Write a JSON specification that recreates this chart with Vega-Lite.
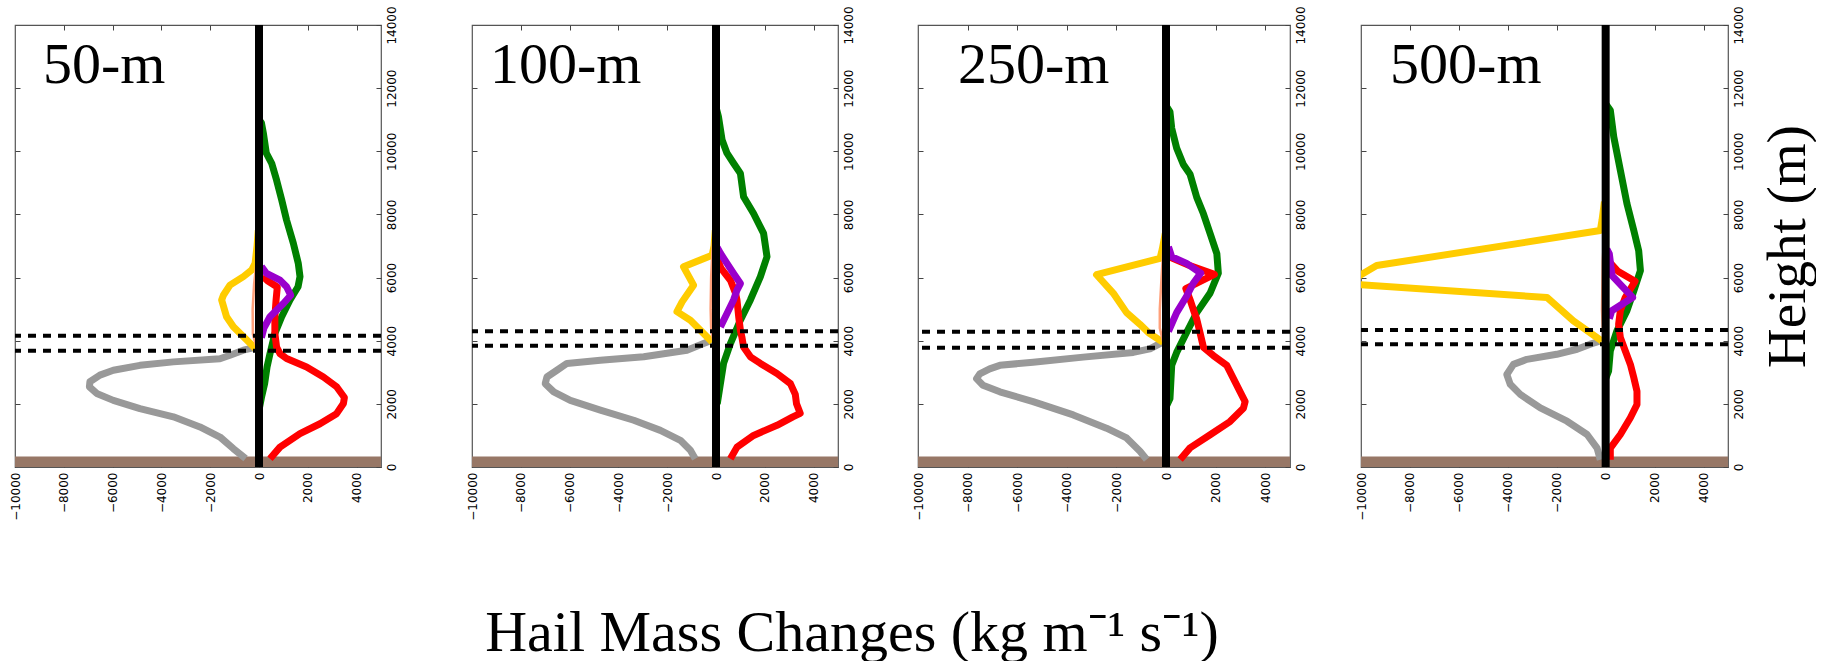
{
"$schema": "https://vega.github.io/schema/vega-lite/v6.json",
"background": "white",
"padding": {"left": 8, "top": 5, "right": 0, "bottom": 0},
"config": {
  "view": {"stroke": "#555555", "strokeWidth": 1.2},
  "axis": {"grid": false, "domain": false, "labelFont": "DejaVu Sans", "labelFontSize": 12, "labelColor": "#000000", "tickColor": "#444444", "tickSize": -5, "labelPadding": 10}
},
"title": {"text": "Hail Mass Changes (kg m⁻¹ s⁻¹)", "orient": "bottom", "anchor": "middle", "font": "Liberation Serif", "fontSize": 58, "fontWeight": "normal", "color": "#000000", "offset": 84, "dx": -60},
"bounds": "flush",
"spacing": 91,
"datasets": {
  "lines": [
    {"p":"50-m","s":"gray","h":270,"v":-550},{"p":"50-m","s":"gray","h":580,"v":-1050},{"p":"50-m","s":"gray","h":950,"v":-1600},{"p":"50-m","s":"gray","h":1270,"v":-2420},{"p":"50-m","s":"gray","h":1590,"v":-3510},{"p":"50-m","s":"gray","h":1850,"v":-4880},{"p":"50-m","s":"gray","h":2110,"v":-5970},{"p":"50-m","s":"gray","h":2330,"v":-6650},{"p":"50-m","s":"gray","h":2540,"v":-6950},{"p":"50-m","s":"gray","h":2700,"v":-6930},{"p":"50-m","s":"gray","h":2910,"v":-6520},{"p":"50-m","s":"gray","h":3065,"v":-5970},{"p":"50-m","s":"gray","h":3220,"v":-4880},{"p":"50-m","s":"gray","h":3330,"v":-3510},{"p":"50-m","s":"gray","h":3430,"v":-1600},{"p":"50-m","s":"gray","h":3540,"v":-1190},{"p":"50-m","s":"gray","h":3700,"v":-640},{"p":"50-m","s":"gray","h":3800,"v":-100},
    {"p":"50-m","s":"yellow","h":3750,"v":-150},{"p":"50-m","s":"yellow","h":4020,"v":-500},{"p":"50-m","s":"yellow","h":4440,"v":-1050},{"p":"50-m","s":"yellow","h":4760,"v":-1330},{"p":"50-m","s":"yellow","h":5290,"v":-1530},{"p":"50-m","s":"yellow","h":5440,"v":-1460},{"p":"50-m","s":"yellow","h":5760,"v":-1190},{"p":"50-m","s":"yellow","h":6030,"v":-640},{"p":"50-m","s":"yellow","h":6240,"v":-300},{"p":"50-m","s":"yellow","h":6450,"v":-160},{"p":"50-m","s":"yellow","h":7000,"v":-80},{"p":"50-m","s":"yellow","h":7500,"v":-30},
    {"p":"50-m","s":"salmon","h":3800,"v":-100},{"p":"50-m","s":"salmon","h":4200,"v":-250},{"p":"50-m","s":"salmon","h":5000,"v":-260},{"p":"50-m","s":"salmon","h":5800,"v":-200},{"p":"50-m","s":"salmon","h":6500,"v":-100},{"p":"50-m","s":"salmon","h":7500,"v":-20},{"p":"50-m","s":"salmon","h":8000,"v":0},
    {"p":"50-m","s":"green","h":1800,"v":0},{"p":"50-m","s":"green","h":2200,"v":100},{"p":"50-m","s":"green","h":2640,"v":230},{"p":"50-m","s":"green","h":3170,"v":330},{"p":"50-m","s":"green","h":3590,"v":450},{"p":"50-m","s":"green","h":4230,"v":650},{"p":"50-m","s":"green","h":4760,"v":930},{"p":"50-m","s":"green","h":5290,"v":1270},{"p":"50-m","s":"green","h":5710,"v":1600},{"p":"50-m","s":"green","h":6030,"v":1680},{"p":"50-m","s":"green","h":6450,"v":1610},{"p":"50-m","s":"green","h":7080,"v":1410},{"p":"50-m","s":"green","h":7820,"v":1130},{"p":"50-m","s":"green","h":8460,"v":930},{"p":"50-m","s":"green","h":9090,"v":720},{"p":"50-m","s":"green","h":9620,"v":520},{"p":"50-m","s":"green","h":9940,"v":300},{"p":"50-m","s":"green","h":10570,"v":180},{"p":"50-m","s":"green","h":10900,"v":100},{"p":"50-m","s":"green","h":11000,"v":0},
    {"p":"50-m","s":"red","h":260,"v":450},{"p":"50-m","s":"red","h":630,"v":860},{"p":"50-m","s":"red","h":1060,"v":1680},{"p":"50-m","s":"red","h":1370,"v":2500},{"p":"50-m","s":"red","h":1690,"v":3180},{"p":"50-m","s":"red","h":2010,"v":3460},{"p":"50-m","s":"red","h":2200,"v":3500},{"p":"50-m","s":"red","h":2540,"v":3180},{"p":"50-m","s":"red","h":2850,"v":2640},{"p":"50-m","s":"red","h":3170,"v":1950},{"p":"50-m","s":"red","h":3435,"v":1130},{"p":"50-m","s":"red","h":3590,"v":860},{"p":"50-m","s":"red","h":3800,"v":720},{"p":"50-m","s":"red","h":4230,"v":650},{"p":"50-m","s":"red","h":4760,"v":650},{"p":"50-m","s":"red","h":5290,"v":700},{"p":"50-m","s":"red","h":5700,"v":750},{"p":"50-m","s":"red","h":5900,"v":350},{"p":"50-m","s":"red","h":6050,"v":150},
    {"p":"50-m","s":"purple","h":4100,"v":100},{"p":"50-m","s":"purple","h":4400,"v":200},{"p":"50-m","s":"purple","h":4760,"v":450},{"p":"50-m","s":"purple","h":5180,"v":1000},{"p":"50-m","s":"purple","h":5440,"v":1300},{"p":"50-m","s":"purple","h":5710,"v":1130},{"p":"50-m","s":"purple","h":5920,"v":860},{"p":"50-m","s":"purple","h":6130,"v":310},{"p":"50-m","s":"purple","h":6350,"v":100},

    {"p":"100-m","s":"gray","h":264,"v":-850},{"p":"100-m","s":"gray","h":530,"v":-1050},{"p":"100-m","s":"gray","h":845,"v":-1460},{"p":"100-m","s":"gray","h":1160,"v":-2280},{"p":"100-m","s":"gray","h":1480,"v":-3370},{"p":"100-m","s":"gray","h":1800,"v":-4740},{"p":"100-m","s":"gray","h":2110,"v":-5970},{"p":"100-m","s":"gray","h":2380,"v":-6650},{"p":"100-m","s":"gray","h":2640,"v":-7000},{"p":"100-m","s":"gray","h":2850,"v":-6930},{"p":"100-m","s":"gray","h":3065,"v":-6520},{"p":"100-m","s":"gray","h":3280,"v":-6110},{"p":"100-m","s":"gray","h":3380,"v":-4740},{"p":"100-m","s":"gray","h":3490,"v":-2960},{"p":"100-m","s":"gray","h":3700,"v":-1190},{"p":"100-m","s":"gray","h":3910,"v":-510},{"p":"100-m","s":"gray","h":4020,"v":-150},
    {"p":"100-m","s":"yellow","h":3960,"v":-160},{"p":"100-m","s":"yellow","h":4330,"v":-640},{"p":"100-m","s":"yellow","h":4650,"v":-1050},{"p":"100-m","s":"yellow","h":4920,"v":-1600},{"p":"100-m","s":"yellow","h":5230,"v":-1390},{"p":"100-m","s":"yellow","h":5760,"v":-920},{"p":"100-m","s":"yellow","h":6340,"v":-1330},{"p":"100-m","s":"yellow","h":6710,"v":-160},{"p":"100-m","s":"yellow","h":7000,"v":-80},{"p":"100-m","s":"yellow","h":7500,"v":-30},
    {"p":"100-m","s":"salmon","h":3900,"v":-100},{"p":"100-m","s":"salmon","h":4400,"v":-200},{"p":"100-m","s":"salmon","h":5000,"v":-220},{"p":"100-m","s":"salmon","h":6000,"v":-200},{"p":"100-m","s":"salmon","h":6800,"v":-150},{"p":"100-m","s":"salmon","h":7500,"v":-80},{"p":"100-m","s":"salmon","h":8200,"v":0},
    {"p":"100-m","s":"green","h":2000,"v":50},{"p":"100-m","s":"green","h":2640,"v":180},{"p":"100-m","s":"green","h":3280,"v":310},{"p":"100-m","s":"green","h":3910,"v":590},{"p":"100-m","s":"green","h":4650,"v":1000},{"p":"100-m","s":"green","h":5290,"v":1410},{"p":"100-m","s":"green","h":6030,"v":1820},{"p":"100-m","s":"green","h":6660,"v":2090},{"p":"100-m","s":"green","h":7400,"v":1950},{"p":"100-m","s":"green","h":8030,"v":1540},{"p":"100-m","s":"green","h":8560,"v":1130},{"p":"100-m","s":"green","h":9300,"v":1000},{"p":"100-m","s":"green","h":9620,"v":720},{"p":"100-m","s":"green","h":9940,"v":450},{"p":"100-m","s":"green","h":10360,"v":250},{"p":"100-m","s":"green","h":11100,"v":100},{"p":"100-m","s":"green","h":11400,"v":0},
    {"p":"100-m","s":"red","h":264,"v":590},{"p":"100-m","s":"red","h":630,"v":860},{"p":"100-m","s":"red","h":1000,"v":1540},{"p":"100-m","s":"red","h":1320,"v":2500},{"p":"100-m","s":"red","h":1590,"v":3150},{"p":"100-m","s":"red","h":1700,"v":3450},{"p":"100-m","s":"red","h":2000,"v":3300},{"p":"100-m","s":"red","h":2300,"v":3250},{"p":"100-m","s":"red","h":2640,"v":3050},{"p":"100-m","s":"red","h":2960,"v":2500},{"p":"100-m","s":"red","h":3280,"v":1820},{"p":"100-m","s":"red","h":3490,"v":1410},{"p":"100-m","s":"red","h":3800,"v":1130},{"p":"100-m","s":"red","h":4120,"v":1060},{"p":"100-m","s":"red","h":4330,"v":1000},{"p":"100-m","s":"red","h":4760,"v":930},{"p":"100-m","s":"red","h":5290,"v":860},{"p":"100-m","s":"red","h":5500,"v":800},{"p":"100-m","s":"red","h":5900,"v":600},{"p":"100-m","s":"red","h":6300,"v":200},{"p":"100-m","s":"red","h":6600,"v":50},
    {"p":"100-m","s":"purple","h":4440,"v":180},{"p":"100-m","s":"purple","h":4860,"v":450},{"p":"100-m","s":"purple","h":5290,"v":720},{"p":"100-m","s":"purple","h":5600,"v":860},{"p":"100-m","s":"purple","h":5810,"v":1000},{"p":"100-m","s":"purple","h":6130,"v":720},{"p":"100-m","s":"purple","h":6450,"v":450},{"p":"100-m","s":"purple","h":6770,"v":180},{"p":"100-m","s":"purple","h":6950,"v":50},

    {"p":"250-m","s":"gray","h":240,"v":-780},{"p":"250-m","s":"gray","h":500,"v":-1050},{"p":"250-m","s":"gray","h":920,"v":-1590},{"p":"250-m","s":"gray","h":1230,"v":-2400},{"p":"250-m","s":"gray","h":1650,"v":-3740},{"p":"250-m","s":"gray","h":2070,"v":-5360},{"p":"250-m","s":"gray","h":2380,"v":-6700},{"p":"250-m","s":"gray","h":2590,"v":-7380},{"p":"250-m","s":"gray","h":2800,"v":-7640},{"p":"250-m","s":"gray","h":2950,"v":-7510},{"p":"250-m","s":"gray","h":3110,"v":-7110},{"p":"250-m","s":"gray","h":3220,"v":-6700},{"p":"250-m","s":"gray","h":3320,"v":-5360},{"p":"250-m","s":"gray","h":3480,"v":-3340},{"p":"250-m","s":"gray","h":3630,"v":-1320},{"p":"250-m","s":"gray","h":3740,"v":-650},{"p":"250-m","s":"gray","h":3950,"v":-150},
    {"p":"250-m","s":"yellow","h":3950,"v":-120},{"p":"250-m","s":"yellow","h":4250,"v":-700},{"p":"250-m","s":"yellow","h":4520,"v":-1050},{"p":"250-m","s":"yellow","h":4890,"v":-1590},{"p":"250-m","s":"yellow","h":5510,"v":-2130},{"p":"250-m","s":"yellow","h":6090,"v":-2800},{"p":"250-m","s":"yellow","h":6610,"v":-240},{"p":"250-m","s":"yellow","h":6900,"v":-150},{"p":"250-m","s":"yellow","h":7400,"v":-30},
    {"p":"250-m","s":"salmon","h":3900,"v":-100},{"p":"250-m","s":"salmon","h":4400,"v":-250},{"p":"250-m","s":"salmon","h":5000,"v":-250},{"p":"250-m","s":"salmon","h":6000,"v":-180},{"p":"250-m","s":"salmon","h":7000,"v":-100},{"p":"250-m","s":"salmon","h":8000,"v":-40},{"p":"250-m","s":"salmon","h":8500,"v":0},
    {"p":"250-m","s":"green","h":1900,"v":0},{"p":"250-m","s":"green","h":2170,"v":160},{"p":"250-m","s":"green","h":3220,"v":230},{"p":"250-m","s":"green","h":3630,"v":430},{"p":"250-m","s":"green","h":4260,"v":830},{"p":"250-m","s":"green","h":4890,"v":1240},{"p":"250-m","s":"green","h":5510,"v":1780},{"p":"250-m","s":"green","h":6140,"v":2110},{"p":"250-m","s":"green","h":6760,"v":2050},{"p":"250-m","s":"green","h":7390,"v":1780},{"p":"250-m","s":"green","h":8020,"v":1510},{"p":"250-m","s":"green","h":8540,"v":1240},{"p":"250-m","s":"green","h":9270,"v":970},{"p":"250-m","s":"green","h":9580,"v":700},{"p":"250-m","s":"green","h":10100,"v":430},{"p":"250-m","s":"green","h":10730,"v":230},{"p":"250-m","s":"green","h":11250,"v":160},{"p":"250-m","s":"green","h":11450,"v":0},
    {"p":"250-m","s":"red","h":240,"v":570},{"p":"250-m","s":"red","h":605,"v":970},{"p":"250-m","s":"red","h":1020,"v":1780},{"p":"250-m","s":"red","h":1440,"v":2580},{"p":"250-m","s":"red","h":1860,"v":3120},{"p":"250-m","s":"red","h":2070,"v":3190},{"p":"250-m","s":"red","h":2380,"v":2990},{"p":"250-m","s":"red","h":2800,"v":2720},{"p":"250-m","s":"red","h":3220,"v":2450},{"p":"250-m","s":"red","h":3530,"v":1910},{"p":"250-m","s":"red","h":3790,"v":1510},{"p":"250-m","s":"red","h":4260,"v":1370},{"p":"250-m","s":"red","h":4680,"v":1240},{"p":"250-m","s":"red","h":4990,"v":1100},{"p":"250-m","s":"red","h":5300,"v":970},{"p":"250-m","s":"red","h":5650,"v":800},{"p":"250-m","s":"red","h":6100,"v":1950},{"p":"250-m","s":"red","h":6400,"v":900},{"p":"250-m","s":"red","h":6650,"v":150},{"p":"250-m","s":"red","h":6900,"v":50},
    {"p":"250-m","s":"purple","h":4300,"v":100},{"p":"250-m","s":"purple","h":4890,"v":430},{"p":"250-m","s":"purple","h":5410,"v":830},{"p":"250-m","s":"purple","h":5820,"v":1100},{"p":"250-m","s":"purple","h":6140,"v":1400},{"p":"250-m","s":"purple","h":6450,"v":830},{"p":"250-m","s":"purple","h":6660,"v":230},{"p":"250-m","s":"purple","h":6970,"v":100},

    {"p":"500-m","s":"gray","h":230,"v":-220},{"p":"500-m","s":"gray","h":600,"v":-350},{"p":"500-m","s":"gray","h":1030,"v":-760},{"p":"500-m","s":"gray","h":1450,"v":-1580},{"p":"500-m","s":"gray","h":1870,"v":-2670},{"p":"500-m","s":"gray","h":2300,"v":-3490},{"p":"500-m","s":"gray","h":2620,"v":-3900},{"p":"500-m","s":"gray","h":2930,"v":-4040},{"p":"500-m","s":"gray","h":3250,"v":-3770},{"p":"500-m","s":"gray","h":3410,"v":-3220},{"p":"500-m","s":"gray","h":3570,"v":-2000},{"p":"500-m","s":"gray","h":3730,"v":-1170},{"p":"500-m","s":"gray","h":3890,"v":-630},{"p":"500-m","s":"gray","h":3990,"v":-220},
    {"p":"500-m","s":"yellow","h":3990,"v":-150},{"p":"500-m","s":"yellow","h":4630,"v":-1320},{"p":"500-m","s":"yellow","h":5370,"v":-2400},{"p":"500-m","s":"yellow","h":5780,"v":-10200},{"p":"500-m","s":"yellow","h":6000,"v":-10200},{"p":"500-m","s":"yellow","h":6380,"v":-9360},{"p":"500-m","s":"yellow","h":7490,"v":-220},{"p":"500-m","s":"yellow","h":7810,"v":-150},{"p":"500-m","s":"yellow","h":8400,"v":-50},
    {"p":"500-m","s":"salmon","h":4000,"v":-100},{"p":"500-m","s":"salmon","h":5000,"v":-150},{"p":"500-m","s":"salmon","h":6500,"v":-120},{"p":"500-m","s":"salmon","h":7500,"v":-50},{"p":"500-m","s":"salmon","h":8000,"v":0},
    {"p":"500-m","s":"green","h":2800,"v":0},{"p":"500-m","s":"green","h":3040,"v":120},{"p":"500-m","s":"green","h":3680,"v":190},{"p":"500-m","s":"green","h":4310,"v":460},{"p":"500-m","s":"green","h":4950,"v":870},{"p":"500-m","s":"green","h":5580,"v":1150},{"p":"500-m","s":"green","h":6220,"v":1420},{"p":"500-m","s":"green","h":6850,"v":1350},{"p":"500-m","s":"green","h":7490,"v":1150},{"p":"500-m","s":"green","h":8340,"v":870},{"p":"500-m","s":"green","h":9400,"v":600},{"p":"500-m","s":"green","h":10460,"v":330},{"p":"500-m","s":"green","h":11300,"v":190},{"p":"500-m","s":"green","h":11500,"v":0},
    {"p":"500-m","s":"red","h":230,"v":190},{"p":"500-m","s":"red","h":600,"v":190},{"p":"500-m","s":"red","h":1030,"v":600},{"p":"500-m","s":"red","h":1560,"v":1010},{"p":"500-m","s":"red","h":1980,"v":1280},{"p":"500-m","s":"red","h":2400,"v":1280},{"p":"500-m","s":"red","h":2830,"v":1150},{"p":"500-m","s":"red","h":3250,"v":1010},{"p":"500-m","s":"red","h":3680,"v":800},{"p":"500-m","s":"red","h":4100,"v":600},{"p":"500-m","s":"red","h":4520,"v":530},{"p":"500-m","s":"red","h":4950,"v":600},{"p":"500-m","s":"red","h":5370,"v":800},{"p":"500-m","s":"red","h":5880,"v":1200},{"p":"500-m","s":"red","h":6200,"v":500},{"p":"500-m","s":"red","h":6500,"v":150},{"p":"500-m","s":"red","h":6800,"v":50},
    {"p":"500-m","s":"purple","h":4700,"v":150},{"p":"500-m","s":"purple","h":4950,"v":250},{"p":"500-m","s":"purple","h":5370,"v":1100},{"p":"500-m","s":"purple","h":6060,"v":260},{"p":"500-m","s":"purple","h":6750,"v":150},{"p":"500-m","s":"purple","h":6900,"v":50}
  ],
  "dash": [
    {"p":"50-m","h":4160},{"p":"50-m","h":3680},
    {"p":"100-m","h":4300},{"p":"100-m","h":3840},
    {"p":"250-m","h":4280},{"p":"250-m","h":3780},
    {"p":"500-m","h":4340},{"p":"500-m","h":3890}
  ]
},
"hconcat": [
  {
    "width": 366, "height": 442,
    "resolve": {"axis": {"x": "independent", "y": "independent"}},
    "layer": [
      {"data": {"values": [{"g": "ground"}]}, "mark": {"type": "rect", "color": "#977766"},
       "encoding": {
         "x": {"datum": -10000, "type": "quantitative", "scale": {"domain": [-10000, 5000], "nice": false, "zero": false}, "axis": {"orient": "bottom", "values": [-10000,-8000,-6000,-4000,-2000,0,2000,4000], "format": "d", "labelAngle": -90, "labelAlign": "right", "labelBaseline": "middle", "title": null}},
         "x2": {"datum": 5000},
         "y": {"datum": 0, "type": "quantitative", "scale": {"domain": [0, 14000], "nice": false, "zero": false}, "axis": {"orient": "right", "values": [0,2000,4000,6000,8000,10000,12000,14000], "format": "d", "labelAngle": -90, "labelAlign": "center", "labelBaseline": "top", "title": null}},
         "y2": {"datum": 330}}},
      {"data": {"name": "lines"}, "transform": [{"filter": "datum.p == '50-m' && datum.s != 'salmon'"}],
       "mark": {"type": "line", "strokeWidth": 7, "clip": true, "strokeJoin": "round"},
       "encoding": {
         "x": {"field": "v", "type": "quantitative", "axis": {"orient": "top", "labels": false, "values": [-8000,-6000,-4000,-2000,0,2000,4000], "title": null}},
         "y": {"field": "h", "type": "quantitative", "axis": {"orient": "left", "labels": false, "values": [2000,4000,6000,8000,10000,12000], "title": null}},
         "color": {"field": "s", "type": "nominal", "scale": {"domain": ["gray","yellow","green","red","purple"], "range": ["#999999","#FFCC00","#008000","#FF0000","#9900CC"]}, "legend": null},
         "order": {"field": "h", "type": "quantitative"}}},
      {"data": {"name": "lines"}, "transform": [{"filter": "datum.p == '50-m' && datum.s == 'salmon'"}],
       "mark": {"type": "line", "strokeWidth": 2.5, "color": "#FFA07A", "clip": true},
       "encoding": {"x": {"field": "v", "type": "quantitative", "axis": null}, "y": {"field": "h", "type": "quantitative", "axis": null}, "order": {"field": "h", "type": "quantitative"}}},
      {"data": {"name": "dash"}, "transform": [{"filter": "datum.p == '50-m'"}],
       "mark": {"type": "rule", "color": "#000000", "strokeWidth": 4, "strokeDash": [8, 7]},
       "encoding": {"y": {"field": "h", "type": "quantitative", "axis": null}}},
      {"data": {"values": [{"g": "zero"}]}, "mark": {"type": "rule", "color": "#000000", "strokeWidth": 8},
       "encoding": {"x": {"datum": 0, "type": "quantitative", "axis": null}}},
      {"data": {"values": [{"label": "50-m"}]}, "mark": {"type": "text", "font": "Liberation Serif", "fontSize": 58, "align": "left", "baseline": "alphabetic", "color": "#000000"},
       "encoding": {"text": {"field": "label"}, "x": {"datum": -8850, "type": "quantitative", "axis": null}, "y": {"datum": 12150, "type": "quantitative", "axis": null}}}
    ]
  },
  {
  "bounds": "flush",
  "spacing": 80,
  "hconcat": [
  {
    "width": 366, "height": 442,
    "resolve": {"axis": {"x": "independent", "y": "independent"}},
    "layer": [
      {"data": {"values": [{"g": "ground"}]}, "mark": {"type": "rect", "color": "#977766"},
       "encoding": {
         "x": {"datum": -10000, "type": "quantitative", "scale": {"domain": [-10000, 5000], "nice": false, "zero": false}, "axis": {"orient": "bottom", "values": [-10000,-8000,-6000,-4000,-2000,0,2000,4000], "format": "d", "labelAngle": -90, "labelAlign": "right", "labelBaseline": "middle", "title": null}},
         "x2": {"datum": 5000},
         "y": {"datum": 0, "type": "quantitative", "scale": {"domain": [0, 14000], "nice": false, "zero": false}, "axis": {"orient": "right", "values": [0,2000,4000,6000,8000,10000,12000,14000], "format": "d", "labelAngle": -90, "labelAlign": "center", "labelBaseline": "top", "title": null}},
         "y2": {"datum": 330}}},
      {"data": {"name": "lines"}, "transform": [{"filter": "datum.p == '100-m' && datum.s != 'salmon'"}],
       "mark": {"type": "line", "strokeWidth": 7, "clip": true, "strokeJoin": "round"},
       "encoding": {
         "x": {"field": "v", "type": "quantitative", "axis": {"orient": "top", "labels": false, "values": [-8000,-6000,-4000,-2000,0,2000,4000], "title": null}},
         "y": {"field": "h", "type": "quantitative", "axis": {"orient": "left", "labels": false, "values": [2000,4000,6000,8000,10000,12000], "title": null}},
         "color": {"field": "s", "type": "nominal", "scale": {"domain": ["gray","yellow","green","red","purple"], "range": ["#999999","#FFCC00","#008000","#FF0000","#9900CC"]}, "legend": null},
         "order": {"field": "h", "type": "quantitative"}}},
      {"data": {"name": "lines"}, "transform": [{"filter": "datum.p == '100-m' && datum.s == 'salmon'"}],
       "mark": {"type": "line", "strokeWidth": 2.5, "color": "#FFA07A", "clip": true},
       "encoding": {"x": {"field": "v", "type": "quantitative", "axis": null}, "y": {"field": "h", "type": "quantitative", "axis": null}, "order": {"field": "h", "type": "quantitative"}}},
      {"data": {"name": "dash"}, "transform": [{"filter": "datum.p == '100-m'"}],
       "mark": {"type": "rule", "color": "#000000", "strokeWidth": 4, "strokeDash": [8, 7]},
       "encoding": {"y": {"field": "h", "type": "quantitative", "axis": null}}},
      {"data": {"values": [{"g": "zero"}]}, "mark": {"type": "rule", "color": "#000000", "strokeWidth": 8},
       "encoding": {"x": {"datum": 0, "type": "quantitative", "axis": null}}},
      {"data": {"values": [{"label": "100-m"}]}, "mark": {"type": "text", "font": "Liberation Serif", "fontSize": 58, "align": "left", "baseline": "alphabetic", "color": "#000000"},
       "encoding": {"text": {"field": "label"}, "x": {"datum": -9260, "type": "quantitative", "axis": null}, "y": {"datum": 12150, "type": "quantitative", "axis": null}}}
    ]
  },
  {
  "bounds": "flush",
  "spacing": 71,
  "hconcat": [
  {
    "width": 372, "height": 442,
    "resolve": {"axis": {"x": "independent", "y": "independent"}},
    "layer": [
      {"data": {"values": [{"g": "ground"}]}, "mark": {"type": "rect", "color": "#977766"},
       "encoding": {
         "x": {"datum": -10000, "type": "quantitative", "scale": {"domain": [-10000, 5000], "nice": false, "zero": false}, "axis": {"orient": "bottom", "values": [-10000,-8000,-6000,-4000,-2000,0,2000,4000], "format": "d", "labelAngle": -90, "labelAlign": "right", "labelBaseline": "middle", "title": null}},
         "x2": {"datum": 5000},
         "y": {"datum": 0, "type": "quantitative", "scale": {"domain": [0, 14000], "nice": false, "zero": false}, "axis": {"orient": "right", "values": [0,2000,4000,6000,8000,10000,12000,14000], "format": "d", "labelAngle": -90, "labelAlign": "center", "labelBaseline": "top", "title": null}},
         "y2": {"datum": 330}}},
      {"data": {"name": "lines"}, "transform": [{"filter": "datum.p == '250-m' && datum.s != 'salmon'"}],
       "mark": {"type": "line", "strokeWidth": 7, "clip": true, "strokeJoin": "round"},
       "encoding": {
         "x": {"field": "v", "type": "quantitative", "axis": {"orient": "top", "labels": false, "values": [-8000,-6000,-4000,-2000,0,2000,4000], "title": null}},
         "y": {"field": "h", "type": "quantitative", "axis": {"orient": "left", "labels": false, "values": [2000,4000,6000,8000,10000,12000], "title": null}},
         "color": {"field": "s", "type": "nominal", "scale": {"domain": ["gray","yellow","green","red","purple"], "range": ["#999999","#FFCC00","#008000","#FF0000","#9900CC"]}, "legend": null},
         "order": {"field": "h", "type": "quantitative"}}},
      {"data": {"name": "lines"}, "transform": [{"filter": "datum.p == '250-m' && datum.s == 'salmon'"}],
       "mark": {"type": "line", "strokeWidth": 2.5, "color": "#FFA07A", "clip": true},
       "encoding": {"x": {"field": "v", "type": "quantitative", "axis": null}, "y": {"field": "h", "type": "quantitative", "axis": null}, "order": {"field": "h", "type": "quantitative"}}},
      {"data": {"name": "dash"}, "transform": [{"filter": "datum.p == '250-m'"}],
       "mark": {"type": "rule", "color": "#000000", "strokeWidth": 4, "strokeDash": [8, 7]},
       "encoding": {"y": {"field": "h", "type": "quantitative", "axis": null}}},
      {"data": {"values": [{"g": "zero"}]}, "mark": {"type": "rule", "color": "#000000", "strokeWidth": 8},
       "encoding": {"x": {"datum": 0, "type": "quantitative", "axis": null}}},
      {"data": {"values": [{"label": "250-m"}]}, "mark": {"type": "text", "font": "Liberation Serif", "fontSize": 58, "align": "left", "baseline": "alphabetic", "color": "#000000"},
       "encoding": {"text": {"field": "label"}, "x": {"datum": -8390, "type": "quantitative", "axis": null}, "y": {"datum": 12150, "type": "quantitative", "axis": null}}}
    ]
  },
  {
    "width": 367, "height": 442,
    "resolve": {"axis": {"x": "independent", "y": "independent"}},
    "layer": [
      {"data": {"values": [{"g": "ground"}]}, "mark": {"type": "rect", "color": "#977766"},
       "encoding": {
         "x": {"datum": -10000, "type": "quantitative", "scale": {"domain": [-10000, 5000], "nice": false, "zero": false}, "axis": {"orient": "bottom", "values": [-10000,-8000,-6000,-4000,-2000,0,2000,4000], "format": "d", "labelAngle": -90, "labelAlign": "right", "labelBaseline": "middle", "title": null}},
         "x2": {"datum": 5000},
         "y": {"datum": 0, "type": "quantitative", "scale": {"domain": [0, 14000], "nice": false, "zero": false}, "axis": {"orient": "right", "values": [0,2000,4000,6000,8000,10000,12000,14000], "format": "d", "labelAngle": -90, "labelAlign": "center", "labelBaseline": "top", "title": "Height (m)", "titleFont": "Liberation Serif", "titleFontSize": 55, "titleFontWeight": "normal", "titleColor": "#000000", "titleAngle": -90, "titleBaseline": "top", "titlePadding": 17}},
         "y2": {"datum": 330}}},
      {"data": {"name": "lines"}, "transform": [{"filter": "datum.p == '500-m' && datum.s != 'salmon'"}],
       "mark": {"type": "line", "strokeWidth": 7, "clip": true, "strokeJoin": "round"},
       "encoding": {
         "x": {"field": "v", "type": "quantitative", "axis": {"orient": "top", "labels": false, "values": [-8000,-6000,-4000,-2000,0,2000,4000], "title": null}},
         "y": {"field": "h", "type": "quantitative", "axis": {"orient": "left", "labels": false, "values": [2000,4000,6000,8000,10000,12000], "title": null}},
         "color": {"field": "s", "type": "nominal", "scale": {"domain": ["gray","yellow","green","red","purple"], "range": ["#999999","#FFCC00","#008000","#FF0000","#9900CC"]}, "legend": null},
         "order": {"field": "h", "type": "quantitative"}}},
      {"data": {"name": "lines"}, "transform": [{"filter": "datum.p == '500-m' && datum.s == 'salmon'"}],
       "mark": {"type": "line", "strokeWidth": 2.5, "color": "#FFA07A", "clip": true},
       "encoding": {"x": {"field": "v", "type": "quantitative", "axis": null}, "y": {"field": "h", "type": "quantitative", "axis": null}, "order": {"field": "h", "type": "quantitative"}}},
      {"data": {"name": "dash"}, "transform": [{"filter": "datum.p == '500-m'"}],
       "mark": {"type": "rule", "color": "#000000", "strokeWidth": 4, "strokeDash": [8, 7]},
       "encoding": {"y": {"field": "h", "type": "quantitative", "axis": null}}},
      {"data": {"values": [{"g": "zero"}]}, "mark": {"type": "rule", "color": "#000000", "strokeWidth": 8},
       "encoding": {"x": {"datum": 0, "type": "quantitative", "axis": null}}},
      {"data": {"values": [{"label": "500-m"}]}, "mark": {"type": "text", "font": "Liberation Serif", "fontSize": 58, "align": "left", "baseline": "alphabetic", "color": "#000000"},
       "encoding": {"text": {"field": "label"}, "x": {"datum": -8810, "type": "quantitative", "axis": null}, "y": {"datum": 12150, "type": "quantitative", "axis": null}}}
    ]
  }
  ]
  }
  ]
  }
]
}
